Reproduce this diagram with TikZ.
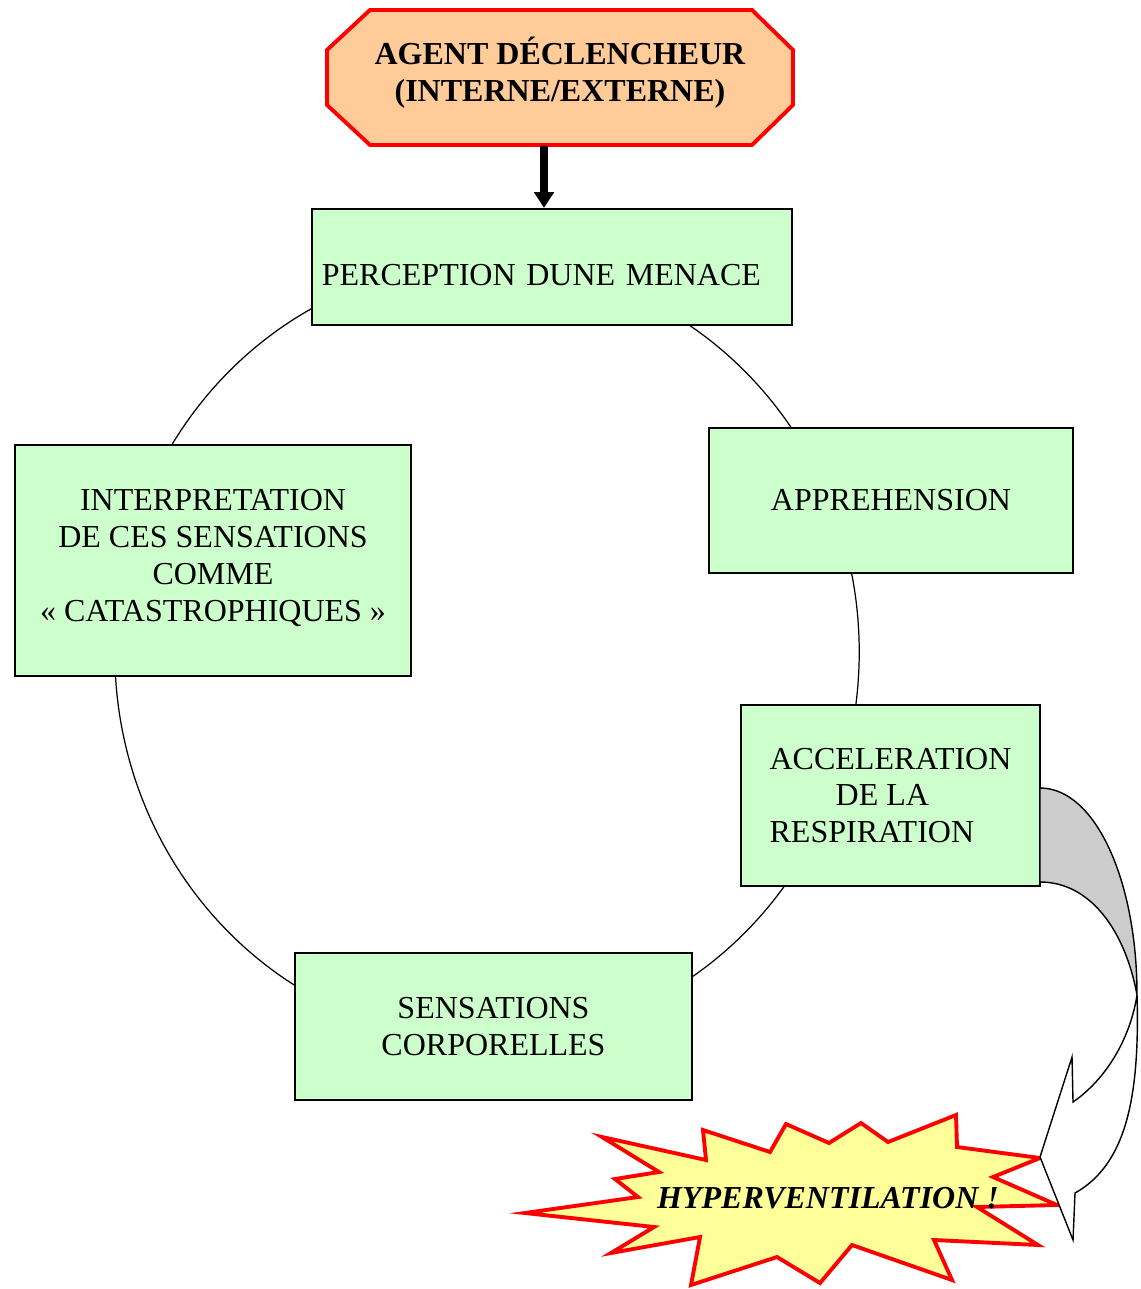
\documentclass[tikz,border=0pt]{standalone}
\usepackage{fontspec}
\setmainfont{Liberation Serif}
\usetikzlibrary{arrows.meta,positioning,calc}
\definecolor{stageGreen}{RGB}{204,255,204}
\definecolor{agentOrange}{RGB}{255,204,153}
\definecolor{burstYellow}{RGB}{255,255,153}
\definecolor{twistGray}{RGB}{204,204,204}
\newcommand{\stagefont}{\fontsize{9.1}{10.5}\selectfont}

\begin{document}
\begin{tikzpicture}[x=0.01cm,y=-0.01cm,
    stagebox/.style={draw=black,line width=0.6pt,fill=stageGreen,align=center,inner sep=0pt,font=\stagefont},
    agentshape/.style={draw=red,line width=1.1pt,fill=agentOrange},
    agentbox/.style={align=center,inner sep=0pt,font=\stagefont\bfseries},
    triggerarrow/.style={line width=2pt,-{Triangle[width=5.5pt,length=4.5pt]}},
    cycleline/.style={draw=black,line width=0.35pt},
    burst/.style={draw=red,line width=1.1pt,fill=burstYellow},
    twist/.style={draw=black,line width=0.4pt}]
		\useasboundingbox (0,0) rectangle (1140,1289);
		% cycle behind the stages
		\draw[cycleline] (487,652) ellipse [x radius=3.72cm,y radius=3.89cm];
		% trigger
		\draw[agentshape] (370,10) -- (752,10) -- (793,50) -- (793,105) -- (752,145) -- (370,145) -- (327,105) -- (327,50) -- cycle;
		\node[agentbox,minimum width=4.66cm,minimum height=1.44cm] (agent) at (560,73) {AGENT DÉCLENCHEUR\\(INTERNE/EXTERNE)};
		\node[stagebox,minimum width=4.8cm,minimum height=1.16cm,text width=4.6cm,text height=0.37cm,align=left] (perception) at (552,267) {PERCEPTION DUNE MENACE};
		\node[stagebox,minimum width=3.64cm,minimum height=1.45cm] (apprehension) at (891,500.5) {APPREHENSION};
		\node[stagebox,minimum width=2.99cm,minimum height=1.81cm,align=left] (acceleration) at (890.5,795.5) {ACCELERATION\\\hspace*{0.66cm}DE LA\\RESPIRATION};
		\node[stagebox,minimum width=3.97cm,minimum height=1.47cm] (sensations) at (493.5,1026.5) {SENSATIONS\\CORPORELLES};
		\node[stagebox,minimum width=3.96cm,minimum height=2.31cm,text depth=0.1cm] (interpretation) at (213,560.5) {INTERPRETATION\\DE CES SENSATIONS\\COMME\\«~CATASTROPHIQUES~»};
		\coordinate (drop) at (544,0);
		\draw[triggerarrow] (agent.south -| drop) -- (perception.north -| drop);
		% burst
		\draw[burst] (525,1213) -- (638,1197) -- (615,1179) -- (659,1172) -- (602,1137) -- (706,1160) -- (703,1130)
			-- (770,1152) -- (786,1124) -- (829,1143) -- (861,1123) -- (888,1142) -- (956,1115) -- (957,1147)
			-- (1040,1158) -- (993,1177) -- (1057,1205) -- (977,1207) -- (1038,1245) -- (934,1240) -- (952,1280)
			-- (852,1245) -- (820,1283) -- (777,1257) -- (691,1285) -- (700,1237) -- (611,1253) -- (654,1227) -- cycle;
		\node[font=\stagefont\bfseries\itshape] (hyper) at (828,1198) {HYPERVENTILATION !};
		% curved arrow
		\draw[twist,fill=twistGray] (1040,788) .. controls (1095,788) and (1137,880) .. (1137,995)
			.. controls (1125,930) and (1090,882) .. (1040,882) -- cycle;
		\draw[twist,fill=white] (1137,995) .. controls (1140,1100) and (1125,1165) .. (1075,1193)
			-- (1073,1240) -- (1040,1157) -- (1072,1057) -- (1073,1102)
			.. controls (1105,1080) and (1130,1040) .. (1137,995) -- cycle;
\end{tikzpicture}
\end{document}
